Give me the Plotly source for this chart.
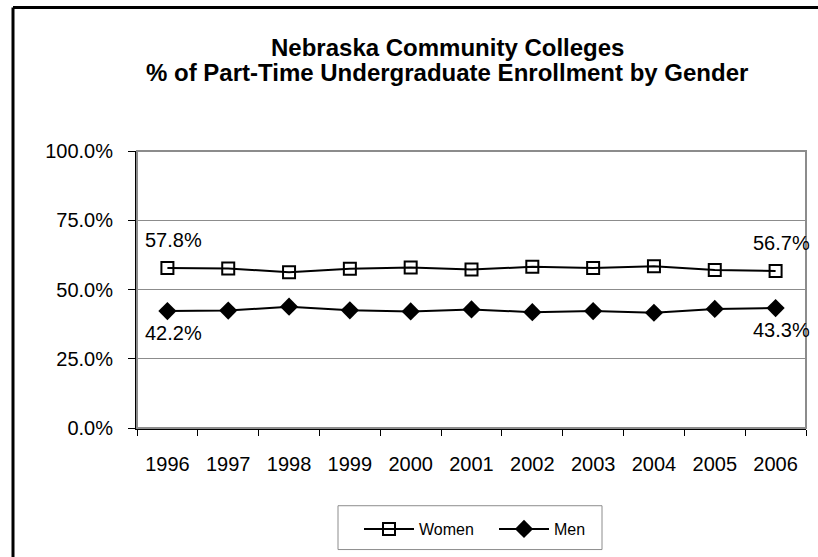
import plotly.graph_objects as go

years = ["1996", "1997", "1998", "1999", "2000", "2001", "2002", "2003", "2004", "2005", "2006"]
women = [57.8, 57.6, 56.2, 57.5, 57.9, 57.2, 58.2, 57.8, 58.4, 57.0, 56.7]
men = [42.2, 42.4, 43.8, 42.5, 42.1, 42.8, 41.8, 42.2, 41.6, 43.0, 43.3]
y_ticks = [0, 25, 50, 75, 100]
title_lines = ["Nebraska Community Colleges", "% of Part-Time Undergraduate Enrollment by Gender"]

W, H = 818, 557
L, R, T, B = 137, 806, 151, 429    # plot area in window pixels

def px(x):
    return (x - L) / (R - L)

def py(y):
    return (B - y) / (B - T)

FONT = "Liberation Sans, Arial, sans-serif"

fig = go.Figure()
fig.add_trace(go.Scatter(
    x=list(range(len(years))), y=women, name="Women", mode="lines+markers",
    line=dict(color="black", width=2),
    marker=dict(symbol="square-open", size=12, color="black", line=dict(width=2)),
))
fig.add_trace(go.Scatter(
    x=list(range(len(years))), y=men, name="Men", mode="lines+markers",
    line=dict(color="black", width=2),
    marker=dict(symbol="diamond", size=14, color="black"),
))

# end-point data labels
for series, sh in ((women, 28), (men, -22)):
    for i in (0, len(years) - 1):
        fig.add_annotation(x=i, y=series[i], xref="x", yref="y", text=f"{series[i]:.1f}%",
                           showarrow=False, yshift=sh, xshift=6,
                           font=dict(family=FONT, size=20, color="black"))

# two-line title
for line, yy in zip(title_lines, (47, 72)):
    fig.add_annotation(x=px(447), y=py(yy), xref="paper", yref="paper", text=f"<b>{line}</b>",
                       showarrow=False, xanchor="center", yanchor="middle",
                       font=dict(family=FONT, size=24, color="black"))

shapes = [
    dict(type="rect", xref="paper", yref="paper", x0=0, x1=1, y0=0, y1=1,
         line=dict(color="#8c8c8c", width=2), layer="above"),
    dict(type="line", xref="paper", yref="paper", x0=px(13), x1=px(830), y0=py(7), y1=py(7),
         line=dict(color="black", width=3)),
    dict(type="line", xref="paper", yref="paper", x0=px(13), x1=px(13), y0=py(7), y1=py(570),
         line=dict(color="black", width=3)),
    dict(type="rect", xref="paper", yref="paper", x0=px(338), x1=px(602), y0=py(507), y1=py(551),
         line=dict(color="#8c8c8c", width=1)),
]

fig.update_layout(
    width=W, height=H,
    margin=dict(l=L, r=W - R, t=T, b=H - B),
    paper_bgcolor="white", plot_bgcolor="white",
    font=dict(family=FONT, color="black"),
    showlegend=True,
    legend=dict(orientation="h", x=px(359), xanchor="left", y=py(529), yanchor="middle",
                bgcolor="rgba(0,0,0,0)", borderwidth=0, itemwidth=50, entrywidth=70,
                font=dict(family=FONT, size=16, color="black")),
    shapes=shapes,
)
fig.update_xaxes(
    tickmode="array", tickvals=list(range(len(years))), ticktext=years,
    ticks="", showline=True, linecolor="black", linewidth=2, showgrid=False,
    tickfont=dict(family=FONT, size=20, color="black"), ticklabelstandoff=17,
    range=[-0.5, len(years) - 0.5], zeroline=False,
    minor=dict(tickmode="array", tickvals=[i - 0.5 for i in range(len(years) + 1)],
               ticks="outside", ticklen=6, tickcolor="black", showgrid=False),
)
fig.update_yaxes(
    range=[0, 100], tickvals=y_ticks, ticktext=[f"{v:.1f}%" for v in y_ticks],
    ticks="outside", ticklen=7, tickcolor="black",
    showline=True, linecolor="black", linewidth=2,
    showgrid=True, gridcolor="#8c8c8c", gridwidth=1, zeroline=False,
    tickfont=dict(family=FONT, size=20, color="black"), ticklabelstandoff=11,
)

fig.write_html("out.html", config={"displayModeBar": False},
               post_script="document.body.style.margin='0px';")
